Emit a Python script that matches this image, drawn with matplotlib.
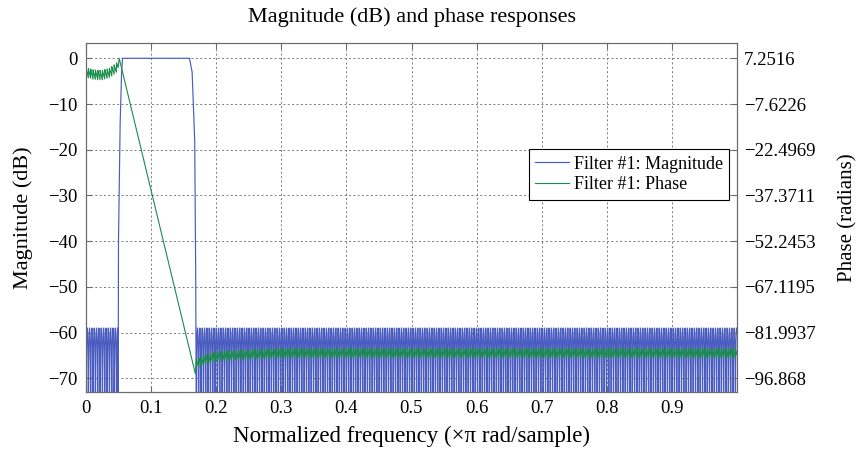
import numpy as np
import matplotlib.pyplot as plt

plt.rcParams["font.family"] = ["Liberation Serif", "DejaVu Serif"]
plt.rcParams["axes.unicode_minus"] = True

# ---------------------------------------------------------------
# band layout, normalized frequency (x pi rad/sample)
# ---------------------------------------------------------------
n_points = 8192            # frequency grid over [0, 1)
lobe_width = 0.0036        # spacing of stopband zeros
stop_peak_db = -59.0       # equiripple stopband level

stop1_band = [0.0, 0.0494]
stop2_band = [0.1695, 1.0]

# transition + passband edges of the magnitude
rise_f = [0.0494, 0.0499, 0.0525, 0.0547, 0.0562]
rise_db = [-80.0, -40.0, -14.0, -3.0, 0.0]
pass_f = [0.0562, 0.159]
pass_db = [0.0, 0.0]
fall_f = [0.159, 0.163, 0.167, 0.1685, 0.1695]
fall_db = [0.0, -3.0, -18.0, -47.0, -80.0]

# phase (radians), slowly varying centre line in each stopband
phase1_f = [0.0, 0.012, 0.025, 0.036, 0.045, 0.0494]
phase1_rad = [2.64, 1.90, 1.75, 2.49, 3.83, 4.87]
phase2_f = [0.1695, 0.18, 0.20, 0.25, 0.30, 1.0]
phase2_rad = [-92.11, -90.92, -89.73, -89.13, -88.69, -88.69]
# linear-phase passband segment
phase_lin_f = [0.051, 0.168]
phase_lin_rad = [7.2516, -95.38]

# axis scales
mag_lim = [-72.93, 3.41]
mag_ticks = [0, -10, -20, -30, -40, -50, -60, -70]
phase_ticks = [7.2516, -7.6226, -22.4969, -37.3711, -52.2453, -67.1195, -81.9937, -96.868]
x_ticks = [0, 0.1, 0.2, 0.3, 0.4, 0.5, 0.6, 0.7, 0.8, 0.9]

freq = np.arange(n_points) / n_points


def stopband(lo, hi):
    m = (freq >= lo) & (freq < hi)
    f = freq[m]
    # zeros every lobe_width, peaks at stop_peak_db
    s = np.abs(np.sin(np.pi * (f - lo) / lobe_width))
    db = stop_peak_db + 20 * np.log10(np.maximum(s, 1e-15))
    saw = np.pi * (0.5 - np.mod((f - lo) / lobe_width, 1.0))
    return f, np.maximum(db, -300), saw


f1, m1, saw1 = stopband(*stop1_band)
f2, m2, saw2 = stopband(*stop2_band)

mag_f = np.concatenate([f1, rise_f, pass_f, fall_f, f2])
mag_db = np.concatenate([m1, rise_db, pass_db, fall_db, m2])

ph1 = np.interp(f1, phase1_f, phase1_rad) + saw1
ph2 = np.interp(f2, phase2_f, phase2_rad) + saw2
ph_f = np.concatenate([f1, phase_lin_f, f2])
ph_rad = np.concatenate([ph1, phase_lin_rad, ph2])

# dB <-> radians, so both grids line up
k = (phase_ticks[0] - phase_ticks[1]) / (mag_ticks[0] - mag_ticks[1])
phase_lim = [phase_ticks[0] + k * (v - mag_ticks[0]) for v in mag_lim]

fig = plt.figure(figsize=(8.6, 4.5), dpi=100)
ax = fig.add_axes([86 / 860, 1 - 391.7 / 450, 651 / 860, 349 / 450])
ax2 = ax.twinx()

blue = "#4a5cc0"
green = "#1a8c4c"

l1, = ax.plot(mag_f, mag_db, color=blue, lw=0.85)
l2, = ax2.plot(ph_f, ph_rad, color=green, lw=0.8)

ax.set_xlim(0, 1.0)
ax.set_ylim(*mag_lim)
ax2.set_ylim(*phase_lim)
ax.set_xticks(x_ticks)
ax.set_xticklabels([f"{v:g}" for v in x_ticks])
ax.set_yticks(mag_ticks)
ax2.set_yticks(phase_ticks)
ax2.set_yticklabels([f"{v:g}".replace("-", "\u2212") for v in phase_ticks])

ax.grid(True, linestyle=(0, (2, 2.5)), color="#7a7a7a", linewidth=0.7)
for a in (ax, ax2):
    for s in a.spines.values():
        s.set_color("#6a6a6a")
        s.set_linewidth(0.8)
ax.tick_params(direction="in", length=4, top=True, right=False,
               labelsize=13.5, color="#6a6a6a", pad=6)
ax2.tick_params(direction="in", length=4, labelsize=13.5, color="#6a6a6a", pad=5)

ax.set_xlabel("Normalized frequency (\u00d7\u03c0 rad/sample)", fontsize=16.5, labelpad=6)
ax.set_ylabel("Magnitude (dB)", fontsize=16, labelpad=11)
ax2.set_ylabel("Phase (radians)", fontsize=15, labelpad=16)
ax.set_title("Magnitude (dB) and phase responses", fontsize=16, pad=15)

leg = ax2.legend([l1, l2], ["Filter #1: Magnitude", "Filter #1: Phase"],
                 loc="upper right", bbox_to_anchor=(0.988, 0.694),
                 fontsize=13, fancybox=False, framealpha=1, edgecolor="black",
                 handlelength=1.9, handletextpad=0.25, borderpad=0.35,
                 labelspacing=0.2, borderaxespad=0)
leg.get_frame().set_linewidth(0.8)

fig.savefig("out.png", dpi=100)
